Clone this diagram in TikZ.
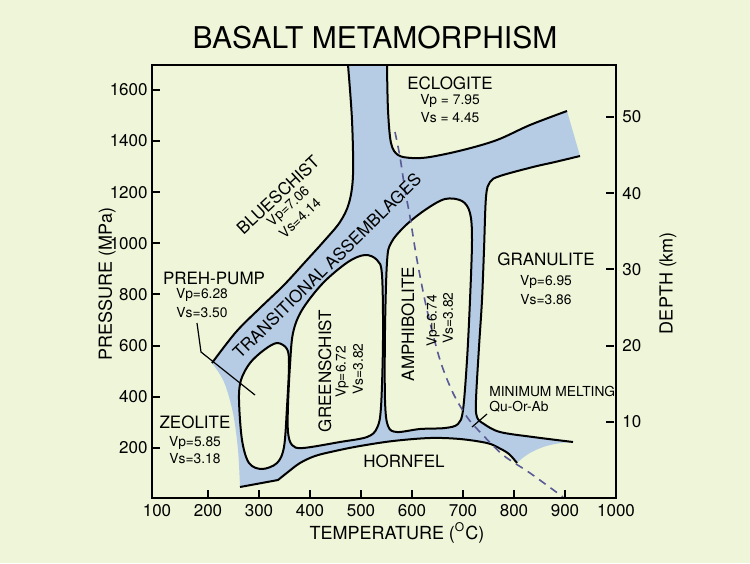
\documentclass[tikz,border=0pt]{standalone}
\usepackage{fontspec}
\setmainfont{TeX Gyre Heros}
\definecolor{paper}{HTML}{EEF5D8}
\definecolor{facies}{HTML}{B5CCE4}
\definecolor{solidus}{HTML}{5A5A96}
% boundary pieces of the facies band, reused for fill and stroke
\def\bandedge{-- plot[smooth,tension=.55] coordinates{(212,363) (236,332) (260,308) (284,285) (306,261) (325,240) (340,222) (349,203) (353,175) (352,120) (348,65)}}
\def\ecltop{-- plot[smooth,tension=.55] coordinates{(387,65) (388,110) (391,143) (398,155) (412,158) (430,157) (463,150) (497,140) (530,125) (567,111)}}
\def\granedge{-- plot[smooth,tension=.55] coordinates{(580,156) (555,162) (533,167) (500,176) (490,182) (486,197) (484,250) (482,300) (479,347) (476,400) (477,417) (484,424) (500,432) (533,437) (573,442)}}
\def\hornfelline{-- plot[smooth,tension=.55] coordinates{(517,463) (509,454) (499,448) (487,443) (460,439) (430,438) (393,441) (360,446) (335,451) (315,456) (300,463) (288,472) (278,480)}}
\begin{document}
\begin{tikzpicture}[x=.5pt,y=-.5pt,
    bound/.style={line width=1pt,line join=round},
    tick/.style={line width=1pt},
    lobe/.style={fill=paper,draw=black,line width=1pt},
    big/.style={font=\fontsize{8.5}{10}\selectfont,inner sep=0pt},
    small/.style={font=\fontsize{6.9}{8}\selectfont,inner sep=0pt},
    num/.style={font=\fontsize{8.5}{10}\selectfont,inner sep=0pt},
    axis/.style={font=\fontsize{9}{11}\selectfont,inner sep=0pt}]
  \fill[paper] (0,0) rectangle (750,563);
  \useasboundingbox (0,0) rectangle (750,563);

  % facies band
  \fill[facies] (212,363) \bandedge \ecltop \granedge
    .. controls (545,443) and (528,452) .. (517,463)
    \hornfelline -- (240,487)
    -- plot[smooth,tension=.55] coordinates{(240,487) (238,450) (233,413) (224,382) (212,363)} -- cycle;
  \filldraw[lobe] plot[smooth cycle,tension=.55] coordinates{(277,343) (287,349) (289,365) (287,407) (284,447) (277,463) (262,469) (249,463) (242,440) (239,400) (241,380) (250,363) (264,350)};
  \filldraw[lobe] plot[smooth cycle,tension=.55] coordinates{(293,333) (302,310) (323,283) (348,262) (365,255) (377,260) (382,275) (383,340) (381,407) (377,428) (367,437) (340,442) (303,448) (292,445) (288,432) (288,405) (290,365)};
  \filldraw[lobe] plot[smooth cycle,tension=.55] coordinates{(387,262) (391,243) (405,226) (425,210) (445,199) (462,201) (470,213) (472,240) (470,300) (467,360) (463,410) (458,424) (445,428) (420,429) (397,432) (388,426) (385,400) (385,330)};
  \draw[bound] (212,363) \bandedge;
  \draw[bound] (387,65) \ecltop;
  \draw[bound] (580,156) \granedge;
  \draw[bound] (517,463) \hornfelline -- (240,487);

  % minimum melting curve
  \draw[solidus,line width=.8pt,dash pattern=on 4pt off 3pt] plot[smooth] coordinates{(395,132) (400,157) (405,190) (410,217) (417,260) (427,310) (440,360) (453,393) (467,417) (480,432) (503,455) (530,473) (563,497)};

  % frame and ticks
  \draw[line width=1pt] (152,65) rectangle (616,498);
  \foreach \p in {200,400,...,1600}{
    \draw[tick] (152,{499-.2557*\p}) -- ++(8,0);
    \node[num,anchor=east](P\p) at (148,{499-.2557*\p}) {\p};
  }
  \foreach \t in {100,200,...,1000}{
    \node[num](T\t) at ({157+.51*(\t-100)},511) {\t};
    \ifnum\t>100 \ifnum\t<1000
      \draw[tick] ({157+.51*(\t-100)},498) -- ++(0,-8);
    \fi\fi
  }
  \foreach \d in {10,20,...,50}{
    \draw[tick] (606,{498-7.62*\d}) -- ++(8,0);
    \node[num,anchor=west](D\d) at (622,{498-7.62*\d}) {\d};
  }

  % titles
  \node[font=\fontsize{15}{18}\selectfont](title) at (375,38) {BASALT METAMORPHISM};
  \node[axis,rotate=90](pres) at (107,284) {PRESSURE (MPa)};
  \node[axis,rotate=90](depth) at (668,283) {DEPTH (km)};
  \node[axis](temp) at (397,533) {TEMPERATURE (\textsuperscript{O}C)};

  % facies labels
  \node[big](ecl) at (450,83) {ECLOGITE};
  \node[small](eclVp) at (450,101) {Vp = 7.95};
  \node[small](eclVs) at (450,118) {Vs = 4.45};
  \node[big,rotate=43](blue) at (278,195) {BLUESCHIST};
  \node[small,rotate=43](blueVp) at (289,207) {Vp=7.06};
  \node[small,rotate=43](blueVs) at (300,218) {Vs=4.14};
  \node[big,rotate=44.5](trans) at (327,266) {TRANSITIONAL ASSEMBLAGES};
  \node[big](pp) at (214,278) {PREH-PUMP};
  \node[small](ppVp) at (202,295) {Vp=6.28};
  \node[small](ppVs) at (202,313) {Vs=3.50};
  \node[big](zeo) at (195,422) {ZEOLITE};
  \node[small](zeoVp) at (195,443) {Vp=5.85};
  \node[small](zeoVs) at (195,459) {Vs=3.18};
  \node[big,rotate=90](green) at (325,371) {GREENSCHIST};
  \node[small,rotate=90](greenVp) at (342,372) {Vp=6.72};
  \node[small,rotate=90](greenVs) at (358,369) {Vs=3.82};
  \node[big,rotate=90](amph) at (408,324) {AMPHIBOLITE};
  \node[small,rotate=90](amphVp) at (433,321) {Vp=6.74};
  \node[small,rotate=90](amphVs) at (448,318) {Vs=3.82};
  \node[big](gran) at (546,259) {GRANULITE};
  \node[small](granVp) at (546,282) {Vp=6.95};
  \node[small](granVs) at (546,300) {Vs=3.86};
  \node[big](horn) at (404,461) {HORNFEL};
  \node[small,anchor=west](mm) at (489,391) {MINIMUM MELTING};
  \node[small,anchor=west](qoa) at (489,407) {Qu-Or-Ab};

  % leaders
  \coordinate (ppFoot) at (197,323);
  \coordinate (ppBend) at (201,352);
  \coordinate (ppTip) at (255,395);
  \draw[line width=.6pt] (ppFoot) -- (ppBend) -- (ppTip);
  \coordinate (mmFoot) at (487,414);
  \coordinate (mmTip) at (472,427);
  \draw[line width=.6pt] (mmFoot) -- (mmTip);
\end{tikzpicture}
\end{document}
